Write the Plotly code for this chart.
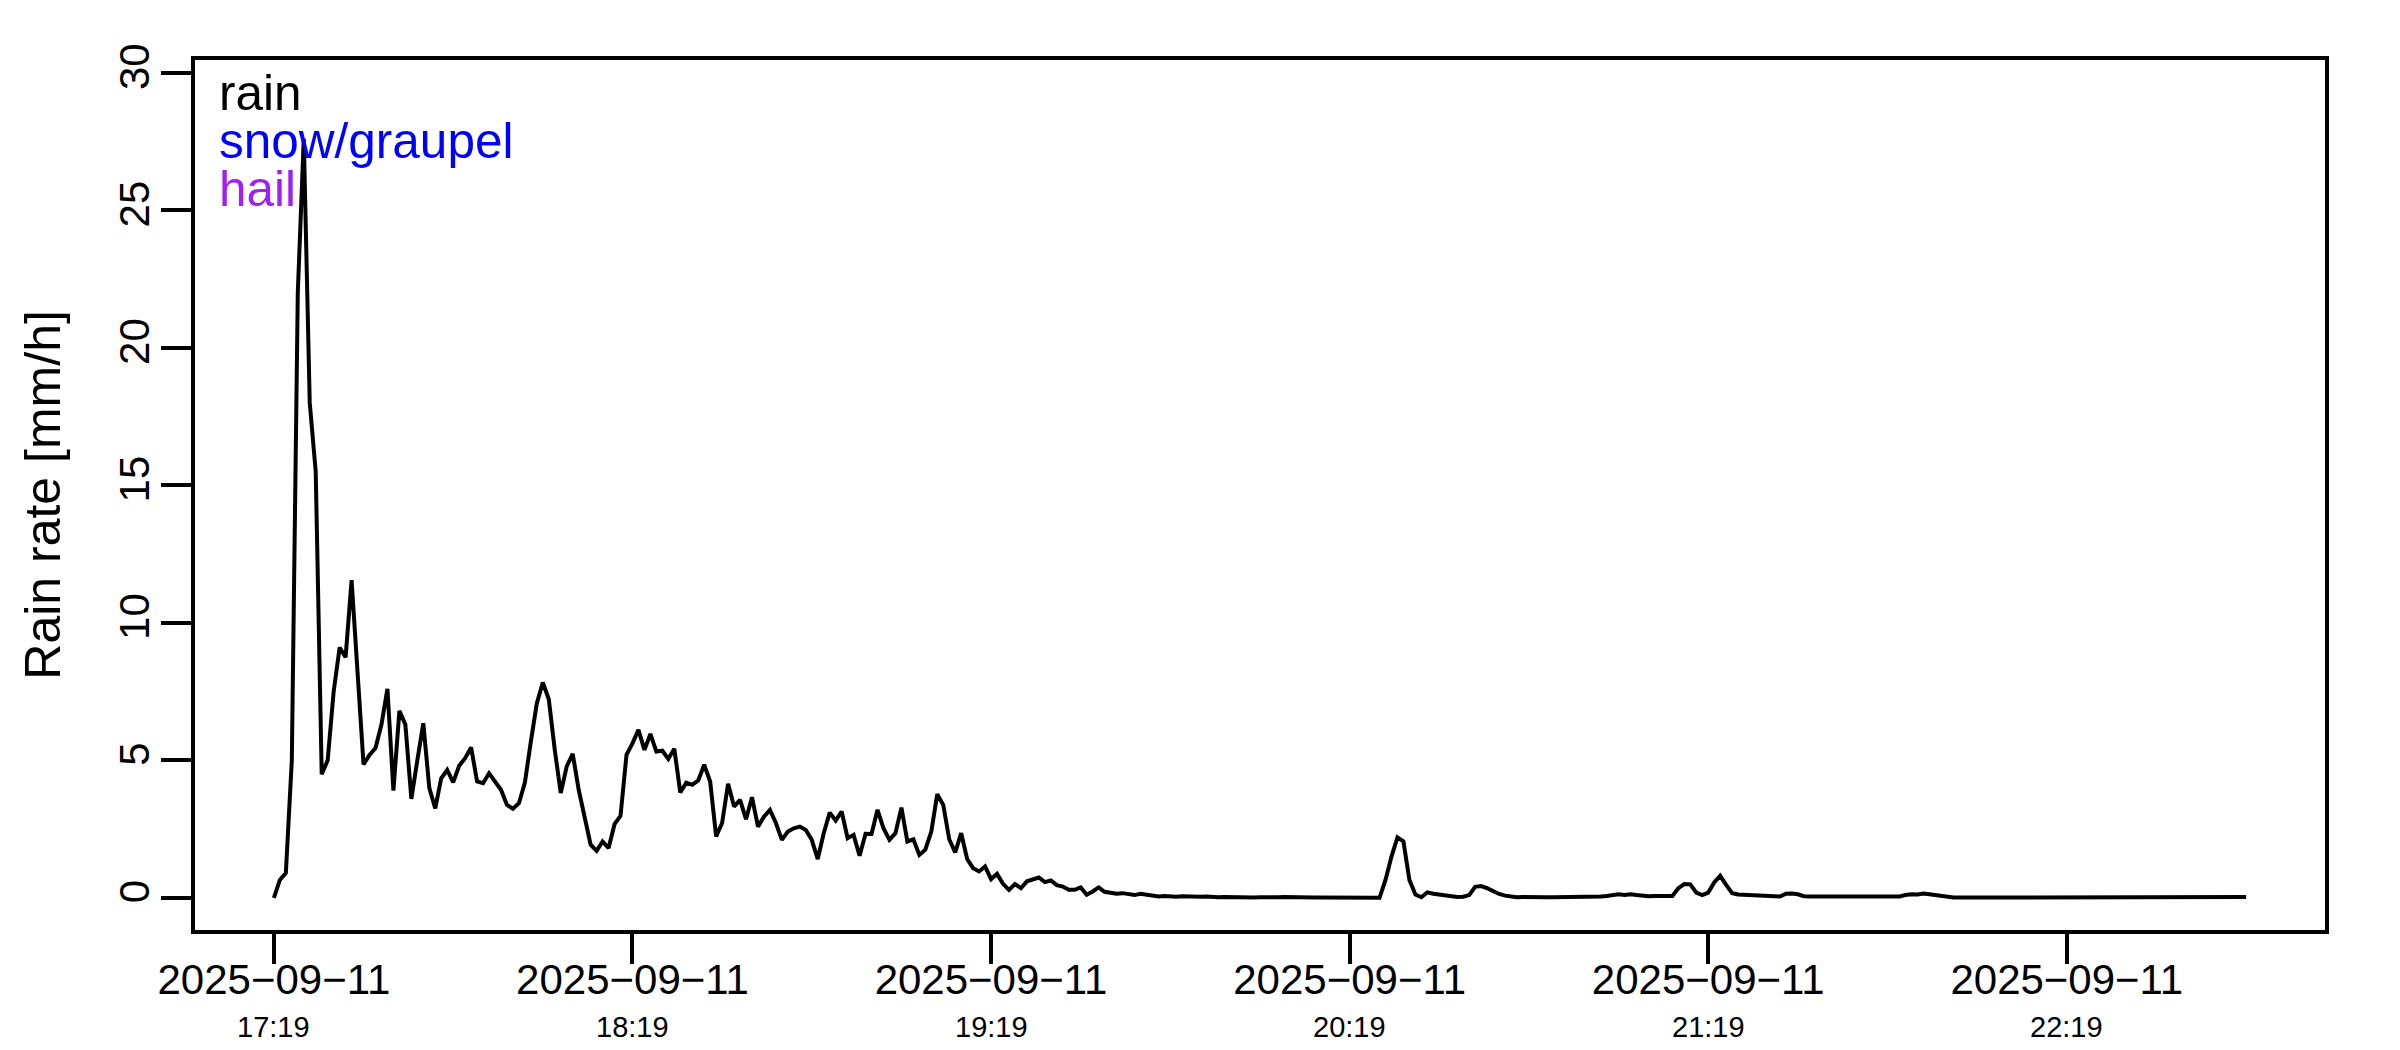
import pandas as pd
import plotly.graph_objects as go

# rain rate per minute [mm/h]
start = "2025-09-11 17:19"
rain = [
    0.0, 0.65, 0.9, 5.0, 22.0, 27.6, 18.0, 15.5, 4.5, 5.0,
    7.5, 9.1, 8.75, 11.55, 8.2, 4.85, 5.2, 5.45, 6.3, 7.6,
    3.9, 6.8, 6.3, 3.6, 5.0, 6.35, 4.0, 3.25, 4.35, 4.65,
    4.2, 4.8, 5.08, 5.47, 4.23, 4.17, 4.53, 4.23, 3.93, 3.38,
    3.24, 3.44, 4.19, 5.69, 7.08, 7.83, 7.22, 5.38, 3.81, 4.78,
    5.24, 3.93, 2.9, 1.93, 1.71, 2.05, 1.81, 2.68, 2.98, 5.2,
    5.62, 6.11, 5.38, 5.96, 5.32, 5.35, 5.05, 5.42, 3.83, 4.19,
    4.11, 4.27, 4.84, 4.23, 2.23, 2.72, 4.15, 3.32, 3.56, 2.86,
    3.66, 2.59, 2.95, 3.2, 2.72, 2.11, 2.41, 2.53, 2.59, 2.47,
    2.11, 1.41, 2.35, 3.1, 2.81, 3.14, 2.17, 2.29, 1.53, 2.33,
    2.32, 3.2, 2.53, 2.11, 2.35, 3.28, 2.05, 2.13, 1.56, 1.75,
    2.41, 3.77, 3.38, 2.13, 1.65, 2.35, 1.41, 1.08, 0.96, 1.14,
    0.68, 0.87, 0.51, 0.29, 0.5, 0.35, 0.6, 0.68, 0.74, 0.57,
    0.63, 0.46, 0.41, 0.29, 0.29, 0.38, 0.11, 0.23, 0.38, 0.22,
    0.17, 0.15, 0.17, 0.15, 0.1, 0.15, 0.12, 0.08, 0.05, 0.07,
    0.05, 0.04, 0.06, 0.05, 0.03, 0.04, 0.05, 0.03, 0.02, 0.03,
    0.02, 0.02, 0.02, 0.01, 0.01, 0.02, 0.01, 0.01, 0.02, 0.03, 0.02,
    0.02, 0.03, 0.02, 0.01, 0.01, 0.01, 0.0, 0.0, 0.0, 0.0,
    0.0, 0.0, 0.0, 0.0, 0.0, 0.65, 1.5, 2.2, 2.05, 0.65,
    0.12, 0.02, 0.2, 0.15, 0.12, 0.1, 0.05, 0.03, 0.04, 0.1,
    0.4, 0.43, 0.35, 0.23, 0.14, 0.08, 0.04, 0.02, 0.03, 0.02,
    0.02, 0.02, 0.02, 0.02, 0.02, 0.02, 0.03, 0.03, 0.03, 0.04,
    0.04, 0.05, 0.07, 0.1, 0.13, 0.1, 0.13, 0.1, 0.07, 0.06,
    0.07, 0.07, 0.07, 0.07, 0.35, 0.5, 0.49, 0.19, 0.1, 0.19,
    0.56, 0.8, 0.47, 0.17, 0.12, 0.11, 0.08, 0.07, 0.07, 0.06,
    0.05, 0.05, 0.15, 0.16, 0.13, 0.06, 0.05, 0.05, 0.06, 0.06,
    0.07, 0.06, 0.05, 0.05, 0.04, 0.05, 0.05, 0.04, 0.05, 0.06,
    0.06, 0.05, 0.1, 0.13, 0.12, 0.16, 0.13, 0.1, 0.06, 0.04,
    0.01, 0.01, 0.01, 0.02, 0.01, 0.01, 0.01, 0.01, 0.02, 0.01,
    0.01, 0.01, 0.01, 0.01, 0.02, 0.01, 0.01, 0.01, 0.01, 0.01, 0.01,
    0.01, 0.01, 0.02, 0.01, 0.01, 0.01, 0.01, 0.01, 0.01, 0.01,
    0.01, 0.01, 0.01, 0.02, 0.01, 0.01, 0.01, 0.01, 0.01, 0.01,
    0.01, 0.01, 0.01, 0.01, 0.01, 0.01, 0.03, 0.04, 0.03,
]

tick_times = ["2025-09-11 17:19", "2025-09-11 18:19", "2025-09-11 19:19",
              "2025-09-11 20:19", "2025-09-11 21:19", "2025-09-11 22:19"]
tick_dates = ["2025\u221209\u221211"] * 6
tick_clock = ["17:19", "18:19", "19:19", "20:19", "21:19", "22:19"]

legend_names = ["rain", "snow/graupel", "hail"]
legend_cols = ["black", "#0000FF", "#A020F0"]

font = "Liberation Sans, Arial, Helvetica, sans-serif"

t = pd.date_range(start, periods=len(rain), freq="min")
span = t[-1] - t[0]
xr = [t[0] - 0.04 * span, t[-1] + 0.04 * span]

fig = go.Figure()
fig.add_trace(go.Scatter(x=t, y=rain, mode="lines",
                         line=dict(color="black", width=4), showlegend=False))

# page body has an 8px margin, so the figure is 8px smaller than the window
fig.update_layout(
    width=2392, height=1042,
    margin=dict(l=187, r=75, t=52, b=120),
    paper_bgcolor="white", plot_bgcolor="white",
    font=dict(family=font, color="black"),
    showlegend=False,
)
fig.update_xaxes(
    range=xr, tickvals=tick_times, ticktext=tick_dates,
    showline=True, mirror=True, linecolor="black", linewidth=3.5,
    ticks="outside", ticklen=30, tickwidth=3.5, tickcolor="black",
    ticklabelstandoff=-20,
    tickfont=dict(size=42, family=font), showgrid=False, zeroline=False,
)
fig.update_yaxes(
    range=[-1.17, 30.47], tickvals=[0, 5, 10, 15, 20, 25, 30],
    tickangle=-90, ticklabelstandoff=-5,
    showline=True, mirror=True, linecolor="black", linewidth=3.5,
    ticks="outside", ticklen=30, tickwidth=3.5, tickcolor="black",
    tickfont=dict(size=42, family=font), showgrid=False, zeroline=False,
)

# second line of the x tick labels (time of day)
for tv, tc in zip(tick_times, tick_clock):
    fig.add_annotation(x=tv, xref="x", y=-0.1115, yref="paper", text=tc,
                       showarrow=False, xanchor="center", yanchor="middle",
                       font=dict(size=29, family=font, color="black"))

# y axis title
fig.add_annotation(x=-0.0715, xref="paper", y=0.5, yref="paper",
                   text="Rain rate [mm/h]", textangle=-90, showarrow=False,
                   xanchor="center", yanchor="middle",
                   font=dict(size=50, family=font, color="black"))

# legend text (no box)
for i, (nm, col) in enumerate(zip(legend_names, legend_cols)):
    fig.add_annotation(x=0.0102, xref="paper", y=0.9624 - i * 0.0552, yref="paper",
                       text=nm, showarrow=False, xanchor="left", yanchor="middle",
                       font=dict(size=49.5, family=font, color=col))

fig.write_html("out.html")
